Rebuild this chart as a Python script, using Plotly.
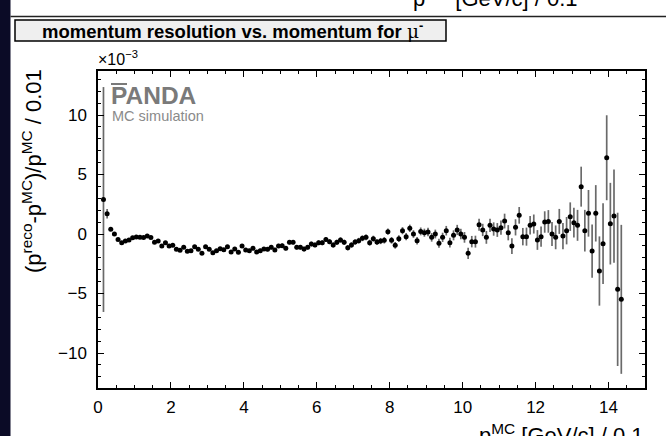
import plotly.graph_objects as go

# ---- data (units of 1e-3) ----
bin_first_center = 0.15
bin_width = 0.1

resolution = [
    # 0.15 .. 2.45
    2.9, 1.7, 0.4, 0.0, -0.45, -0.73, -0.59, -0.5, -0.31, -0.25,
    -0.28, -0.3, -0.17, -0.3, -0.7, -0.59, -1.0, -0.73, -1.0, -0.95,
    -1.29, -1.37, -1.12, -1.45,
    # 2.55 .. 4.95
    -1.4, -1.07, -1.29, -1.62, -1.07, -1.29, -1.57, -1.4, -1.23, -1.32,
    -1.07, -1.51, -1.26, -1.54, -1.0, -1.34, -1.4, -1.2, -1.51, -1.4,
    -1.26, -1.29, -1.12, -1.34, -1.0,
    # 5.05 .. 7.25
    -0.98, -1.2, -0.7, -0.7, -1.12, -1.12, -1.26, -1.12, -0.84, -0.92,
    -0.73, -0.73, -0.45, -0.64, -0.92, -0.7, -0.5, -0.7, -1.15, -0.92,
    -0.67, -0.56, -0.36,
    # 7.35 .. 8.25
    -0.28, -0.73, -0.39, -0.67, -0.59, -0.53, 0.2, -0.53, -0.95, -0.39,
    # 8.35 .. 14.35
    0.28, -0.22, 0.48, 0.0, -0.56, 0.22, 0.11, 0.17, -0.28, 0.0,
    -0.78, -0.28, 0.28, -0.73, -0.11, 0.34, 0.0, -0.28, -1.62, -0.64,
    -0.64, 0.78, 0.34, -0.28, 0.73, 0.42, 0.34, 0.53, 1.09, 0.11,
    -1.01, 0.56, 1.57, -0.22, -0.22, 0.73, 0.84, -0.5, -0.22, 1.01,
    1.06, 0.0, -0.28, 1.06, -0.17, 0.28, 1.46, 0.95, 0.73, 3.98,
    0.28, 1.74, -1.43, 1.74, -3.11, -0.81, 6.41, 0.87, 1.51, -4.65, -5.49,
]

resolution_err = [
    9.45, 0.4, 0.15, 0.12, 0.1, 0.1, 0.1, 0.1, 0.1, 0.1,
    0.1, 0.1, 0.1, 0.1, 0.1, 0.1, 0.1, 0.1, 0.11, 0.11,
    0.11, 0.12, 0.12, 0.12,
    0.12, 0.12, 0.13, 0.13, 0.13, 0.13, 0.14, 0.14, 0.14, 0.14,
    0.15, 0.15, 0.15, 0.15, 0.16, 0.16, 0.16, 0.16, 0.17, 0.17,
    0.17, 0.17, 0.18, 0.18, 0.18,
    0.18, 0.18, 0.19, 0.19, 0.19, 0.19, 0.2, 0.2, 0.2, 0.2,
    0.21, 0.21, 0.21, 0.21, 0.22, 0.22, 0.22, 0.22, 0.23, 0.23,
    0.23, 0.24, 0.24,
    0.24, 0.25, 0.25, 0.26, 0.26, 0.27, 0.27, 0.28, 0.28, 0.29,
    0.3, 0.3, 0.31, 0.32, 0.32, 0.33, 0.34, 0.35, 0.36, 0.37,
    0.38, 0.39, 0.4, 0.41, 0.42, 0.43, 0.44, 0.45, 0.47, 0.48,
    0.5, 0.51, 0.52, 0.54, 0.55, 0.56, 0.58, 0.6, 0.62, 0.64,
    0.66, 0.68, 0.7, 0.73, 0.76, 0.78, 0.8, 0.83, 0.86, 0.9,
    0.95, 1.0, 1.0, 1.05, 1.1, 1.15, 1.2, 1.25, 1.3, 1.68,
    1.75, 1.96, 2.24, 2.37, 2.91, 3.4, 3.57, 3.43, 3.92, 6.44, 6.26,
]

momentum = [round(bin_first_center + bin_width * i, 2) for i in range(len(resolution))]

x_tickvals = [0, 2, 4, 6, 8, 10, 12, 14]
y_tickvals = [-10, -5, 0, 5, 10]
y_ticktext = ["\u221210", "\u22125", "0", "5", "10"]

# ---- layout geometry (pixels) ----
W, H = 666, 436
L, R, T, B = 98, 645, 71, 388


def xp(px):
    return (px - L) / (R - L)


def yp(py):
    return (B - py) / (B - T)


FONT = "Liberation Sans, Arial, Helvetica, sans-serif"

fig = go.Figure()
fig.add_trace(go.Scatter(
    x=momentum, y=resolution, mode="markers",
    marker=dict(color="black", size=5),
    error_y=dict(type="data", array=resolution_err, visible=True,
                 color="#6a6a6a", thickness=1.7, width=0),
    showlegend=False, cliponaxis=True,
))

axis_common = dict(
    showline=True, linecolor="black", linewidth=1.5, mirror="ticks",
    ticks="inside", tickcolor="black", tickwidth=1, ticklen=6,
    showgrid=False, zeroline=False,
    tickfont=dict(family=FONT, size=17, color="black"),
)

fig.update_xaxes(
    range=[0, 15], tickvals=x_tickvals,
    minor=dict(ticks="inside", dtick=0.5, ticklen=3, tickcolor="black", showgrid=False),
    ticklabelstandoff=3,
    **axis_common,
)
fig.update_yaxes(
    range=[-12.94, 13.7], tickvals=y_tickvals, ticktext=y_ticktext,
    minor=dict(ticks="inside", dtick=1, ticklen=3, tickcolor="black", showgrid=False),
    ticklabelstandoff=6,
    **axis_common,
)

shapes = [
    # dark strip on the left edge
    dict(type="rect", xref="paper", yref="paper",
         x0=xp(-2), x1=xp(10.5), y0=yp(440), y1=yp(-4),
         fillcolor="#0b0b26", line=dict(width=0), layer="above"),
    # separator line at top
    dict(type="line", xref="paper", yref="paper",
         x0=xp(10.5), x1=xp(668), y0=yp(16.5), y1=yp(16.5),
         line=dict(color="#222", width=1.5)),
    # title box
    dict(type="rect", xref="paper", yref="paper",
         x0=xp(15), x1=xp(446), y0=yp(41), y1=yp(20),
         fillcolor="#efefef", line=dict(color="black", width=1.5)),
    # overline on P of PANDA
    dict(type="line", xref="paper", yref="paper",
         x0=xp(111), x1=xp(127), y0=yp(84), y1=yp(84),
         line=dict(color="#7a7a7a", width=2)),
]

annotations = [
    dict(text="momentum resolution vs. momentum for "
              "<span style='font-family:DejaVu Serif;font-weight:normal'>\u03bc</span><sup>-</sup>",
         xref="paper", yref="paper", x=xp(232), y=yp(30.5),
         xanchor="center", yanchor="middle", showarrow=False,
         font=dict(family=FONT, size=18.5, color="black", weight="bold")),
    dict(text="p<sup>MC</sup> [GeV/c] / 0.1",
         xref="paper", yref="paper", x=xp(580), y=yp(13),
         xanchor="right", yanchor="bottom", showarrow=False,
         font=dict(family=FONT, size=22, color="black")),
    dict(text="p<sup>MC</sup> [GeV/c] / 0.1",
         xref="paper", yref="paper", x=xp(646), y=yp(418),
         xanchor="right", yanchor="top", showarrow=False,
         font=dict(family=FONT, size=22, color="black")),
    dict(text="(p<sup>reco</sup>-p<sup>MC</sup>)/p<sup>MC</sup> / 0.01",
         xref="paper", yref="paper", x=xp(32), y=yp(67),
         xanchor="center", yanchor="top", textangle=-90, showarrow=False,
         font=dict(family=FONT, size=22, color="black")),
    dict(text="\u00d710<sup>\u22123</sup>",
         xref="paper", yref="paper", x=xp(96), y=yp(70),
         xanchor="left", yanchor="bottom", showarrow=False,
         font=dict(family=FONT, size=16, color="black")),
    dict(text="<b>PANDA</b>",
         xref="paper", yref="paper", x=xp(109), y=yp(96),
         xanchor="left", yanchor="middle", showarrow=False,
         font=dict(family=FONT, size=24.5, color="#7a7a7a")),
    dict(text="MC simulation",
         xref="paper", yref="paper", x=xp(110), y=yp(115.5),
         xanchor="left", yanchor="middle", showarrow=False,
         font=dict(family=FONT, size=14.5, color="#8a8a8a")),
]

fig.update_layout(
    width=W, height=H, autosize=False,
    margin=dict(l=L, r=W - R, t=T, b=H - B, pad=0),
    paper_bgcolor="white", plot_bgcolor="white",
    shapes=shapes, annotations=annotations,
    font=dict(family=FONT),
)

fig.write_html("out.html", config={"displayModeBar": False})
